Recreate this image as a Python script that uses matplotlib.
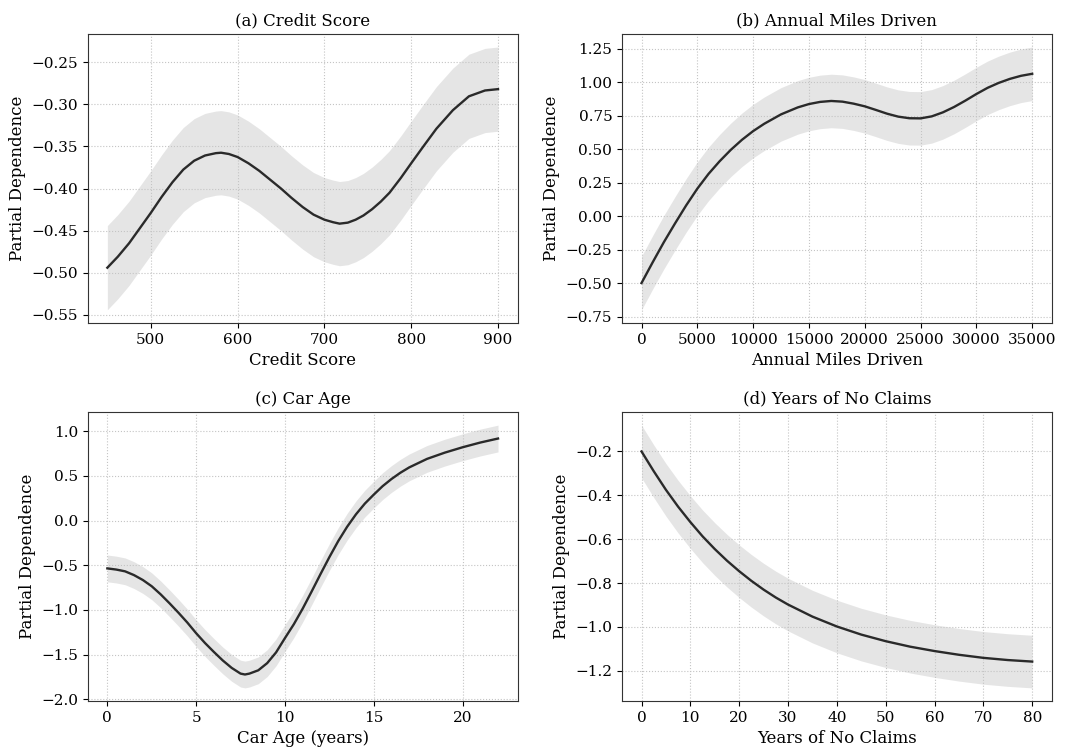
import matplotlib
matplotlib.use("Agg")
import matplotlib.pyplot as plt
import numpy as np

plt.rcParams['font.family'] = ['DejaVu Serif']

# (a) Credit Score
credit_x = [450, 462, 475, 487.5, 500, 512.5, 525, 537.5, 550, 562.5, 575, 581,
            590, 600, 612.5, 625, 637.5, 650, 662, 675, 687.5, 700, 710, 717.5,
            727, 736, 745, 755, 765, 775, 788, 800, 814, 829, 848, 866.5, 885, 900]
credit_y = [-0.494, -0.481, -0.465, -0.447, -0.429, -0.410, -0.3925, -0.3775,
            -0.3670, -0.3608, -0.3580, -0.3575, -0.359, -0.3626, -0.370, -0.379,
            -0.3895, -0.400, -0.411, -0.422, -0.431, -0.437, -0.440, -0.4417,
            -0.4405, -0.437, -0.432, -0.4245, -0.4155, -0.405, -0.3875, -0.370,
            -0.350, -0.329, -0.307, -0.2905, -0.2836, -0.282]
credit_err = 0.05

# (b) Annual Miles Driven
miles_x = [0, 1000, 2000, 3000, 4000, 5000, 6000, 7000, 8000, 9000, 10000,
           11000, 12500, 14000, 15000, 16000, 17000, 18000, 19000, 20000, 21000,
           22000, 23000, 24000, 25000, 26000, 27000, 28000, 29000, 30000, 31000,
           32000, 33000, 34000, 35000]
miles_y = [-0.50, -0.345, -0.195, -0.055, 0.08, 0.205, 0.315, 0.41, 0.495,
           0.57, 0.635, 0.69, 0.76, 0.812, 0.837, 0.853, 0.86, 0.855, 0.84,
           0.82, 0.793, 0.765, 0.743, 0.731, 0.730, 0.745, 0.775, 0.815, 0.862,
           0.912, 0.958, 0.995, 1.025, 1.048, 1.063]
miles_err = 0.2

# (c) Car Age
age_x = [0, 0.5, 1, 1.5, 2, 2.5, 3, 3.5, 4, 4.5, 5, 5.5, 6, 6.5, 7, 7.5, 7.75,
         8, 8.5, 9, 9.5, 10, 10.5, 11, 11.5, 12, 12.5, 13, 13.5, 14, 14.5, 15,
         15.5, 16, 16.5, 17, 18, 19, 20, 21, 22]
age_y = [-0.535, -0.548, -0.568, -0.61, -0.665, -0.735, -0.825, -0.925, -1.03,
         -1.14, -1.26, -1.37, -1.47, -1.565, -1.648, -1.712, -1.722, -1.712,
         -1.675, -1.595, -1.475, -1.315, -1.16, -0.985, -0.795, -0.60, -0.41,
         -0.23, -0.07, 0.07, 0.19, 0.29, 0.385, 0.465, 0.535, 0.595, 0.69,
         0.76, 0.82, 0.873, 0.918]
age_err = 0.15

# (d) Years of No Claims
claims_x = [0, 2.5, 5, 7.5, 10, 12.5, 15, 17.5, 20, 22.5, 25, 27.5, 30, 35,
            40, 45, 50, 55, 60, 65, 70, 75, 80]
claims_y = [-0.20, -0.29, -0.375, -0.452, -0.522, -0.587, -0.645, -0.698,
            -0.746, -0.79, -0.83, -0.866, -0.898, -0.953, -0.998, -1.035,
            -1.065, -1.09, -1.11, -1.127, -1.141, -1.151, -1.158]
claims_err = 0.12

panels = [
    ("(a) Credit Score", "Credit Score", credit_x, credit_y, credit_err),
    ("(b) Annual Miles Driven", "Annual Miles Driven", miles_x, miles_y, miles_err),
    ("(c) Car Age", "Car Age (years)", age_x, age_y, age_err),
    ("(d) Years of No Claims", "Years of No Claims", claims_x, claims_y, claims_err),
]

fig, axes = plt.subplots(2, 2, figsize=(10.71, 7.53), dpi=100)
fig.subplots_adjust(left=0.082, right=0.982, top=0.955, bottom=0.069,
                    wspace=0.243, hspace=0.308)

for ax, (title, xlabel, x, y, err) in zip(axes.flat, panels):
    x = np.array(x)
    y = np.array(y)
    ax.fill_between(x, y - err, y + err, color='gray', alpha=0.2, linewidth=0)
    ax.plot(x, y, color='#2a2a2a', linewidth=1.7, solid_joinstyle='round')
    ax.set_title(title, fontsize=12)
    ax.set_xlabel(xlabel, fontsize=12)
    ax.set_ylabel("Partial Dependence", fontsize=12)
    ax.tick_params(labelsize=11)
    ax.grid(True, linestyle=':', color='#c4c4c4', linewidth=0.8)
    for sp in ax.spines.values():
        sp.set_color('#333333')

axes[0, 1].set_yticks([-0.75, -0.5, -0.25, 0, 0.25, 0.5, 0.75, 1.0, 1.25])

fig.savefig("out.png", dpi=100)
